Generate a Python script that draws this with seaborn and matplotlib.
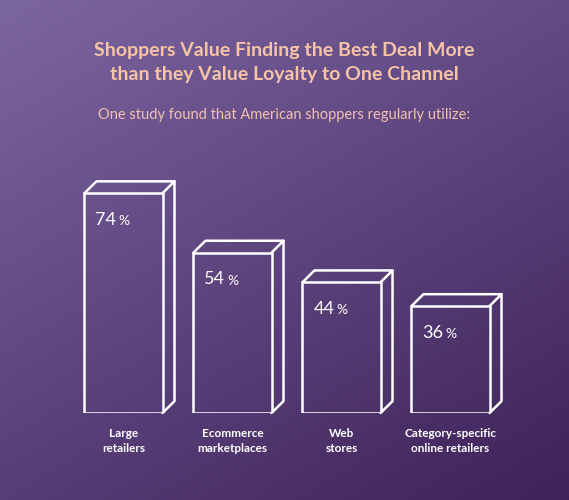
import numpy as np
import pandas as pd
import matplotlib
matplotlib.use("Agg")
import matplotlib.pyplot as plt
import seaborn as sns

categories = ["Large\nretailers", "Ecommerce\nmarketplaces", "Web\nstores", "Category-specific\nonline retailers"]
values = [74, 54, 44, 36]
df = pd.DataFrame({"cat": categories, "val": values})

sns.set_theme(style="white")
plt.rcParams['font.family'] = ['Lato', 'DejaVu Sans']

fig = plt.figure(figsize=(5.69, 5.0), dpi=100)
bg = fig.add_axes([0, 0, 1, 1])
yy, xx = np.mgrid[0:1:200j, 0:1:200j]
t = np.clip((xx * 0.6 + yy * 0.9) / 1.5, 0, 1)
c0 = np.array([0x7c, 0x66, 0xa2]) / 255
c1 = np.array([0x3e, 0x22, 0x58]) / 255
img = c0[None, None, :] * (1 - t[..., None]) + c1[None, None, :] * t[..., None]
bg.imshow(img, extent=[0, 1, 0, 1], origin="upper", aspect="auto")
bg.axis("off")

ax = fig.add_axes([0, 0.174, 1, 0.594])
ax.patch.set_alpha(0)
sns.barplot(data=df, x="cat", y="val", ax=ax, width=0.716,
            facecolor="none", edgecolor="white", linewidth=1.8)
ax.set_xlim(-1.133, 4.087)
ax.set_ylim(0, 100)
ax.axis("off")

dx, dy = 0.11, 4.0
for i, (p, v) in enumerate(zip(ax.patches, values)):
    x0, w, h = p.get_x(), p.get_width(), p.get_height()
    x1 = x0 + w
    ax.plot([x0, x0 + dx, x1 + dx, x1], [h, h + dy, h + dy, h], color="white", lw=1.8, clip_on=False)
    ax.plot([x1 + dx, x1 + dx, x1], [h + dy, dy, 0], color="white", lw=1.8, clip_on=False)
    ax.text(x0 + 0.1, h - 9, f"{v}", color="white", fontsize=13, va="center", ha="left")
    ax.text(x0 + 0.1 + 0.215, h - 9.4, "%", color="white", fontsize=10, va="center", ha="left")
    ax.text(x0 + w / 2, -5, categories[i], color="white", fontsize=8.5,
            fontweight="bold", ha="center", va="top", linespacing=1.5)

fig.text(0.5, 0.875, "Shoppers Value Finding the Best Deal More\nthan they Value Loyalty to One Channel",
         ha="center", va="center", color="#f7c4a6", fontsize=14, fontweight="bold", linespacing=1.45)
fig.text(0.5, 0.771, "One study found that American shoppers regularly utilize:",
         ha="center", va="center", color="#f1c0b0", fontsize=10.5)

fig.savefig("out.png", dpi=100)
